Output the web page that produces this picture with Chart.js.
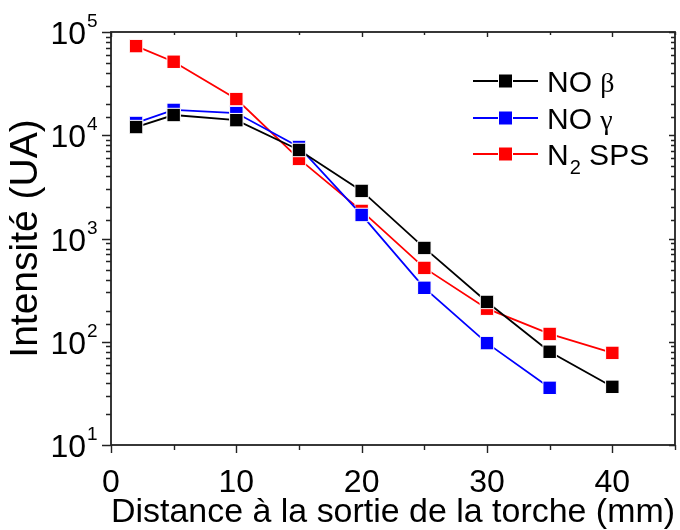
<!DOCTYPE html>
<html>
<head>
<meta charset="utf-8">
<script src="https://cdn.jsdelivr.net/npm/chart.js@4/dist/chart.umd.min.js"></script>
<style>
html,body{margin:0;padding:0;background:#fff;}
#wrap{width:680px;height:530px;}
</style>
</head>
<body>
<div id="wrap"><canvas id="c" width="680" height="530"></canvas></div>
<script>
// ---- data ----
const distances = [2, 5, 10, 15, 20, 25, 30, 35, 40];
const noBeta   = [12000, 15700, 14000, 7200, 2890, 810, 243, 80, 36.6];
const noGamma  = [13150, 17600, 16400, 7700, 1690, 333, 97, 35.8];
const n2SPS    = [73000, 51500, 22400, 5900, 1850, 519, 209, 119, 78];
const seriesNames = ['NO β', 'NO γ', 'N2 SPS'];
const seriesColors = ['#000000', '#0000ff', '#ff0000'];
const xTickLabels = [0, 10, 20, 30, 40];
const yTickExponents = [1, 2, 3, 4, 5];

const FONT = "'Liberation Sans', Arial, sans-serif";

function pts(xs, ys) { return ys.map((v, i) => ({x: xs[i], y: v})); }

const datasets = [noBeta, noGamma, n2SPS].map((vals, i) => ({
  label: seriesNames[i],
  data: pts(distances, vals),
  borderColor: seriesColors[i],
  backgroundColor: seriesColors[i],
  borderWidth: 1.8,
  pointStyle: 'rect',
  pointRadius: 9.5,
  pointHoverRadius: 9.5,
  pointBorderColor: '#ffffff',
  pointBorderWidth: 1,
  tension: 0
}));

const framePlugin = {
  id: 'frame',
  afterDraw(chart) {
    const ctx = chart.ctx, a = chart.chartArea;
    const xs = chart.scales.x, ys = chart.scales.y;
    ctx.save();
    ctx.strokeStyle = '#222';
    ctx.lineWidth = 1.8;
    ctx.strokeRect(a.left, a.top, a.right - a.left, a.bottom - a.top);
    ctx.lineWidth = 1.4;
    ctx.beginPath();
    xs.ticks.forEach(t => {
      const px = Math.round(xs.getPixelForValue(t.value)) + 0.5;
      const major = xTickLabels.includes(t.value);
      ctx.moveTo(px, a.bottom); ctx.lineTo(px, a.bottom + (major ? 8 : 5));
      ctx.moveTo(px, a.top); ctx.lineTo(px, a.top + (major ? 5 : 3));
    });
    ys.ticks.forEach(t => {
      const py = Math.round(ys.getPixelForValue(t.value)) + 0.5;
      const major = yTickExponents.some(e => Math.abs(Math.pow(10, e) - t.value) < 1e-6);
      ctx.moveTo(a.left, py); ctx.lineTo(a.left - (major ? 9 : 5), py);
      ctx.moveTo(a.right, py); ctx.lineTo(a.right - (major ? 6 : 4), py);
    });
    ctx.stroke();
    // y tick labels 10^n
    ctx.fillStyle = '#000';
    yTickExponents.forEach(e => {
      const py = ys.getPixelForValue(Math.pow(10, e));
      ctx.font = '32px ' + FONT;
      ctx.textAlign = 'right';
      ctx.textBaseline = 'alphabetic';
      ctx.fillText('10', a.left - 25, py + 12);
      ctx.font = '19px ' + FONT;
      ctx.textAlign = 'left';
      ctx.fillText(String(e), a.left - 24, py - 5);
    });
    // legend
    const lx0 = a.right - 202, lx1 = a.right - 137, tx = a.right - 128;
    const rowY = [a.top + 49, a.top + 86, a.top + 122];
    chart.data.datasets.forEach((ds, i) => {
      const y = rowY[i];
      ctx.strokeStyle = ds.borderColor;
      ctx.lineWidth = 1.8;
      ctx.beginPath(); ctx.moveTo(lx0, y); ctx.lineTo(lx1, y); ctx.stroke();
      ctx.fillStyle = ds.backgroundColor;
      const mx = (lx0 + lx1) / 2;
      ctx.strokeStyle = '#fff'; ctx.lineWidth = 1;
      ctx.fillRect(mx - 7, y - 7, 14, 14);
      ctx.strokeRect(mx - 7, y - 7, 14, 14);
      ctx.fillStyle = '#000';
      ctx.textAlign = 'left';
      ctx.textBaseline = 'alphabetic';
      const base = y + 11;
      if (i < 2) {
        ctx.font = '30px ' + FONT;
        ctx.fillText('NO', tx, base);
        const w = ctx.measureText('NO ').width;
        ctx.font = '28px "Liberation Serif", "DejaVu Serif", serif';
        ctx.fillText(ds.label.slice(3), tx + w, base);
      } else {
        ctx.font = '30px ' + FONT;
        ctx.fillText('N', tx, base);
        const w = ctx.measureText('N').width;
        ctx.font = '20px ' + FONT;
        ctx.fillText('2', tx + w + 1, base + 9);
        const w2 = ctx.measureText('2').width;
        ctx.font = '30px ' + FONT;
        ctx.fillText(' SPS', tx + w + w2 + 1, base);
      }
    });
    ctx.restore();
  }
};

new Chart(document.getElementById('c'), {
  type: 'line',
  data: { datasets },
  plugins: [framePlugin],
  options: {
    responsive: false,
    animation: false,
    events: [],
    layout: { autoPadding: false, padding: { left: 0, top: 32, right: 5, bottom: 0 } },
    plugins: { legend: { display: false }, tooltip: { enabled: false } },
    scales: {
      x: {
        type: 'linear', min: 0, max: 45,
        afterFit(s) { s.height = 85; s.paddingLeft = 0; s.paddingRight = 0; },
        border: { display: false },
        grid: { drawOnChartArea: false, drawTicks: false },
        ticks: {
          stepSize: 5, autoSkip: false, maxRotation: 0,
          padding: 19, color: '#000',
          font: { family: FONT, size: 32 },
          callback: v => xTickLabels.includes(v) ? String(v) : ''
        },
        title: {
          display: true, text: 'Distance à la sortie de la torche (mm)',
          color: '#000', font: { family: FONT, size: 34, lineHeight: 1.0 },
          padding: { top: 0, bottom: 0 }
        }
      },
      y: {
        type: 'logarithmic', min: 10, max: 100000,
        afterFit(s) { s.width = 111; s.paddingTop = 0; s.paddingBottom = 0; },
        border: { display: false },
        grid: { drawOnChartArea: false, drawTicks: false },
        ticks: { display: false },
        title: {
          display: true, text: 'Intensité (UA)',
          color: '#000', font: { family: FONT, size: 39 },
          padding: { top: 3, bottom: 0 }
        }
      }
    }
  }
});
</script>
</body>
</html>
